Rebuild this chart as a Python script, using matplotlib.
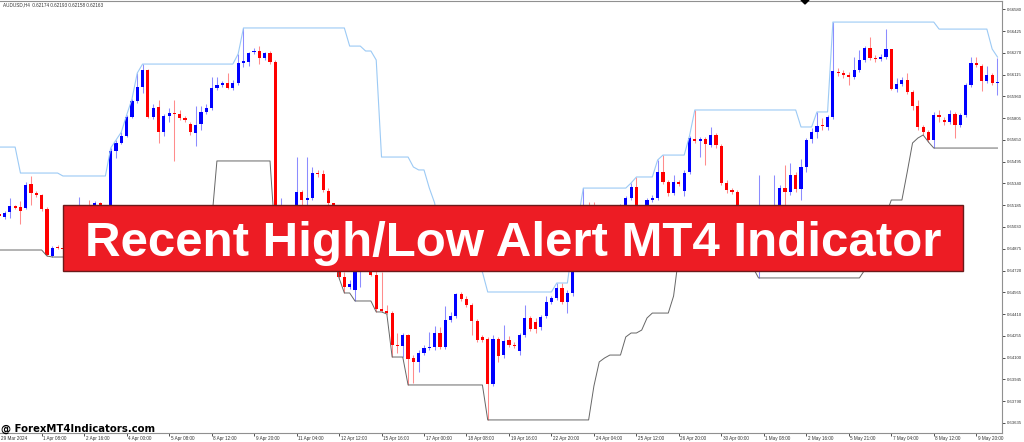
import numpy as np
import pandas as pd
import matplotlib
matplotlib.use('Agg')
import matplotlib.pyplot as plt
from matplotlib.patches import Rectangle, Polygon

# =============================================================================
# AUDUSD H4 candles, prices in points (1e-5)
# =============================================================================
opens = [65122, 65101, 65137, 65179, 65172, 65165, 65336, 65272, 65258, 65158,
         64823, 64887, 64880, 64873, 64923, 64980, 65037, 64994, 64966, 65201,
         65137, 65108, 65571, 65628, 65678, 65813, 65927, 66027, 66148, 65813,
         65884, 65706, 65820, 65841, 65834, 65806, 65763, 65699, 65763, 65849,
         65877, 66019, 66041, 66055, 66019, 66055, 66197, 66205, 66276, 66283,
         66233, 66269, 66205, 64973, 65044, 65008, 65151, 65279, 65222, 65236,
         65414, 65407, 65286, 65201, 64937, 64674, 64603, 64581, 64709, 64830,
         64880, 64688, 64446, 64432, 64417, 64190, 64182, 64261, 64097, 64069,
         64133, 64168, 64175, 64275, 64175, 64368, 64396, 64553, 64517, 64474,
         64360, 64247, 64232, 63912, 64232, 64118, 64225, 64190, 64147, 64261,
         64382, 64353, 64318, 64396, 64496, 64524, 64596, 64496, 64560, 64866,
         65008, 65115, 65044, 65008, 65065, 65023, 65094, 65137, 65179, 65236,
         65315, 65151, 65115, 65222, 65236, 65421, 65350, 65272, 65350, 65286,
         65421, 65656, 65642, 65656, 65614, 65685, 65606, 65343, 65293, 65279,
         65008, 64866, 64937, 64795, 64973, 64902, 64830, 65008, 65307, 65279,
         65400, 65300, 65457, 65656, 65706, 65756, 65742, 65813, 66133, 66126,
         66112, 66098, 66148, 66219, 66304, 66233, 66226, 66240, 66297, 66012,
         66048, 66076, 65991, 65891, 65742, 65706, 65649, 65827, 65792, 65777,
         65834, 65756, 65827, 66041, 66197, 66176, 66069, 66112, 66055]
highs = [65137, 65144, 65236, 65186, 65215, 65350, 65393, 65286, 65265, 65172,
         64894, 64902, 64894, 64951, 65023, 65243, 65080, 65222, 65215, 65208,
         65172, 65592, 65649, 65706, 65827, 65941, 66126, 66190, 66155, 65906,
         65934, 65834, 65877, 65934, 65863, 65820, 65777, 65891, 65891, 65906,
         66098, 66098, 66069, 66126, 66076, 66262, 66447, 66276, 66304, 66318,
         66276, 66283, 66219, 65236, 65115, 65179, 65528, 65293, 65528, 65457,
         65436, 65436, 65307, 65201, 64966, 64709, 64652, 64738, 64866, 64937,
         64909, 64738, 64709, 64474, 64432, 64275, 64275, 64268, 64118, 64154,
         64190, 64282, 64325, 64318, 64467, 64425, 64560, 64567, 64538, 64489,
         64375, 64261, 64247, 64261, 64247, 64332, 64254, 64211, 64275, 64474,
         64396, 64382, 64403, 64538, 64538, 64631, 64631, 64581, 64902, 65080,
         65307, 65208, 65208, 65115, 65122, 65137, 65165, 65194, 65250, 65343,
         65386, 65179, 65236, 65258, 65507, 65542, 65364, 65400, 65364, 65436,
         65678, 65863, 65671, 65671, 65742, 65699, 65621, 65364, 65307, 65293,
         65044, 64994, 64973, 65400, 65023, 64937, 65400, 65329, 65471, 65485,
         65421, 65514, 65663, 65735, 65849, 65806, 65827, 66489, 66162, 66148,
         66133, 66240, 66290, 66318, 66383, 66254, 66262, 66439, 66297, 66091,
         66098, 66126, 66005, 65934, 65756, 65720, 65849, 65863, 65813, 65863,
         65849, 65841, 66055, 66240, 66240, 66190, 66176, 66126, 66233]
lows = [65094, 65087, 65094, 65158, 65051, 65158, 65186, 65243, 65144, 64823,
        64816, 64873, 64866, 64852, 64894, 64951, 64966, 64937, 64951, 65108,
        65080, 65065, 65521, 65621, 65671, 65806, 65913, 65984, 65806, 65799,
        65628, 65678, 65777, 65500, 65792, 65777, 65685, 65606, 65720, 65834,
        65863, 66005, 66027, 66012, 66005, 66041, 66169, 66176, 66262, 66190,
        66219, 66190, 64937, 64902, 64951, 64973, 65137, 65186, 65151, 65222,
        65386, 65279, 65179, 64866, 64667, 64560, 64588, 64503, 64603, 64781,
        64681, 64425, 64425, 64410, 64104, 64133, 64104, 63905, 63919, 63997,
        64118, 64154, 64154, 64161, 64161, 64353, 64382, 64503, 64460, 64261,
        64211, 64211, 63656, 63898, 64069, 64097, 64175, 64168, 64118, 64247,
        64289, 64275, 64296, 64382, 64481, 64510, 64481, 64417, 64538, 64830,
        64973, 65008, 64951, 64973, 64980, 64994, 65051, 65094, 65151, 65222,
        65137, 65065, 65094, 65208, 65222, 65336, 65250, 65258, 65322, 65250,
        65407, 65628, 65528, 65471, 65599, 65592, 65329, 65272, 65265, 64973,
        64830, 64781, 64738, 64667, 64781, 64724, 64795, 64973, 65115, 65258,
        65279, 65222, 65421, 65628, 65663, 65720, 65720, 65799, 66105, 66091,
        66041, 66084, 66133, 66205, 66219, 66205, 66212, 66226, 66005, 65991,
        66034, 65977, 65863, 65720, 65685, 65635, 65592, 65777, 65756, 65763,
        65663, 65742, 65813, 66027, 66169, 65998, 66055, 66041, 65970]
closes = [65108, 65130, 65179, 65165, 65144, 65329, 65272, 65258, 65158, 64830,
          64880, 64880, 64873, 64923, 64980, 65037, 64994, 64966, 65201, 65137,
          65108, 65571, 65628, 65678, 65813, 65927, 66027, 66148, 65813, 65877,
          65706, 65820, 65841, 65834, 65806, 65792, 65706, 65756, 65849, 65877,
          66019, 66041, 66055, 66019, 66055, 66197, 66212, 66269, 66283, 66233,
          66269, 66205, 64973, 65044, 65008, 65151, 65279, 65222, 65236, 65414,
          65407, 65293, 65201, 64937, 64674, 64603, 64624, 64709, 64830, 64880,
          64688, 64446, 64432, 64417, 64190, 64182, 64261, 64090, 64069, 64133,
          64168, 64175, 64275, 64175, 64368, 64396, 64553, 64517, 64474, 64360,
          64225, 64225, 63912, 64232, 64111, 64218, 64190, 64182, 64261, 64382,
          64304, 64304, 64389, 64496, 64524, 64596, 64496, 64560, 64866, 65008,
          65115, 65044, 65008, 65065, 65023, 65094, 65137, 65179, 65236, 65315,
          65151, 65115, 65222, 65236, 65421, 65350, 65272, 65350, 65336, 65414,
          65663, 65642, 65656, 65621, 65685, 65614, 65343, 65293, 65279, 65008,
          64866, 64937, 64795, 64973, 64902, 64830, 65008, 65307, 65279, 65400,
          65300, 65457, 65649, 65706, 65749, 65749, 65813, 66141, 66126, 66112,
          66098, 66148, 66219, 66304, 66233, 66226, 66240, 66297, 66012, 66048,
          66076, 65991, 65891, 65742, 65706, 65649, 65827, 65813, 65777, 65834,
          65756, 65827, 66041, 66197, 66183, 66069, 66112, 66055, 66062]

# bars before the visible window (only feed the 20-bar channel)
earlier_highs = [65150, 65200, 65180, 65599, 65250, 65220, 65280, 65300, 65260, 65230,
                 65270, 65414, 65240, 65210, 65260, 65230, 65200, 65180, 65160]
earlier_lows = [65000, 64980, 65020, 65050, 65010, 64990, 65030, 65060, 65040, 65000,
                64990, 65020, 65050, 65030, 64866, 64950, 65000, 65040, 65060]
period = 20

time_labels = ['29 Mar 2024', '1 Apr 08:00', '2 Apr 16:00', '4 Apr 00:00', '5 Apr 08:00',
               '8 Apr 12:00', '9 Apr 20:00', '11 Apr 04:00', '12 Apr 12:00', '15 Apr 16:00',
               '17 Apr 00:00', '18 Apr 08:00', '19 Apr 16:00', '22 Apr 20:00', '24 Apr 04:00',
               '25 Apr 12:00', '26 Apr 20:00', '30 Apr 00:00', '1 May 08:00', '2 May 16:00',
               '5 May 21:00', '7 May 04:00', '8 May 12:00', '9 May 20:00']
price_ticks = [0.66580 - k * 0.00155 for k in range(20)]

# =============================================================================
# build frame + recent high / low channel
# =============================================================================
df = pd.DataFrame({'Open': opens, 'High': highs, 'Low': lows, 'Close': closes}) / 1e5
hh = pd.Series(earlier_highs + highs) / 1e5
ll = pd.Series(earlier_lows + lows) / 1e5
df['Upper'] = hh.rolling(period).max().iloc[len(earlier_highs):].values
df['Lower'] = ll.rolling(period).min().iloc[len(earlier_lows):].values
idx = np.arange(len(df))
bull = df.Close >= df.Open

W, H = 1024, 442
fig = plt.figure(figsize=(W / 100, H / 100), dpi=100)
ax = fig.add_axes([0, 9 / H, 1002 / W, 432 / H])
ax.set_xlim(0.15, 188.85)
ax.set_ylim(0.63563, 0.66639)

# wicks
ax.vlines(idx[bull], df.Low[bull], df.High[bull], color='#8c8cff', lw=0.75, zorder=2)
ax.vlines(idx[~bull], df.Low[~bull], df.High[~bull], color='#ff8c8c', lw=0.75, zorder=2)
# bodies
body = np.maximum((df.Close - df.Open).abs(), 0.00008)
bottom = np.minimum(df.Close, df.Open)
ax.bar(idx[bull], body[bull], bottom=bottom[bull], width=0.6, color='#0000ff', lw=0, zorder=3)
ax.bar(idx[~bull], body[~bull], bottom=bottom[~bull], width=0.6, color='#ff0000', lw=0, zorder=3)

ax.plot(idx, df.Upper, color='#9ccaf5', lw=0.8, zorder=4)
ax.plot(idx, df.Lower, color='#666666', lw=0.7, zorder=4)

# axes look
ax.spines['left'].set_visible(False)
for s in ['top', 'right', 'bottom']:
    ax.spines[s].set_color('#909090')
    ax.spines[s].set_linewidth(0.8)

ax.yaxis.tick_right()
ax.set_yticks(price_ticks)
ax.set_yticklabels(['%.5f' % p for p in price_ticks], family='Liberation Sans')
ax.tick_params(axis='y', length=2.5, width=0.6, pad=1.2, labelsize=3.1,
               colors='#333333')
tick_pos = [8 * k for k in range(len(time_labels))]
ax.set_xticks(tick_pos[1:])
ax.set_xticklabels([])
ax.tick_params(axis='x', length=2.5, width=0.6, colors='#333333')
for pos, lab in zip(tick_pos, time_labels):
    ax.text(pos + 0.3, -0.006, lab, transform=ax.get_xaxis_transform(),
            ha='left', va='top', fontsize=3.3, color='#333333',
            family='Liberation Sans', clip_on=False)

# header text and markers
fig.text(3 / W, 1 - 5 / H, 'AUDUSD,H4  0.62174 0.62193 0.62158 0.62163',
         fontsize=3.3, color='#333333', va='center', family='Liberation Sans')
fig.add_artist(Polygon([[801 / W, 1], [809 / W, 1], [805 / W, 1 - 4 / H]],
                       closed=True, transform=fig.transFigure, color='black'))

# banner
fig.add_artist(Rectangle((63 / W, 1 - 271 / H), 900 / W, 66 / H, transform=fig.transFigure,
                         facecolor='#ed1c24', edgecolor='#6b1a1a', lw=1, zorder=10))
fig.text(513 / W, 1 - 256 / H, 'Recent High/Low Alert MT4 Indicator', ha='center',
         va='baseline', fontsize=35.5, fontweight='bold', color='white',
         family='Liberation Sans', zorder=11)

fig.text(1 / W, 1 - 432 / H, '@ ForexMT4Indicators.com', fontsize=7.3,
         fontweight='bold', color='black', va='baseline', zorder=11)

fig.savefig('out.png', dpi=100, facecolor='white')
